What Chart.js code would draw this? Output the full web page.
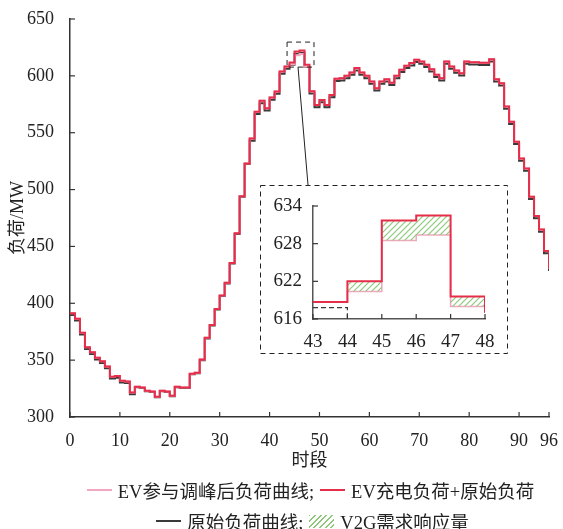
<!DOCTYPE html>
<html>
<head>
<meta charset="utf-8">
<script src="https://cdn.jsdelivr.net/npm/chart.js@4"></script>
<style>
body { margin: 0; background: #fff; }
#wrap { position: relative; width: 563px; height: 529px; font-family: 'Liberation Serif', 'Noto Sans CJK SC', serif; color: #222; }
#main { position: absolute; left: 0; top: 0; }
#inset { position: absolute; left: 261px; top: 186px; background: #fff; }
.legend-row { position: absolute; left: 0; width: 563px; height: 24px; display: flex; justify-content: center; align-items: center; font-size: 18.5px; white-space: nowrap; }
.item { display: flex; align-items: center; margin: 0 3px; }
.swatch { width: 25px; height: 0; border-top: 2.5px solid; margin-right: 6px; }
.hatch { width: 25px; height: 13px; margin-right: 6px; background: repeating-linear-gradient(135deg, #8cc97b 0 1.4px, transparent 1.4px 4px); }
</style>
</head>
<body>
<div id="wrap">
  <canvas id="main" width="563" height="529"></canvas>
  <canvas id="inset" width="245" height="166"></canvas>
  <div class="legend-row" id="row1" style="top:478px; left:29px"></div>
  <div class="legend-row" id="row2" style="top:509px; left:31px"></div>
</div>
<script>
// 时段 0..96 的负荷 (MW), 最后一个值是第96时段末端
const xTicks = [0, 10, 20, 30, 40, 50, 60, 70, 80, 90, 96];

const loadWithEV = [
    391.3, 386.3, 374, 361.3, 356.9, 352, 349, 344.3, 335.4, 336,
    331.9, 331.3, 321.6, 326.6, 326, 323.1, 322.5, 317.8, 323.1, 322.5,
    318.7, 326.6, 326, 326, 338, 339, 350.5, 369.6, 381, 395,
    406.9, 418, 435.4, 461.5, 494.2, 523, 545, 568.5, 578, 571.5,
    580.9, 586.2, 603.8, 608.2, 611.7, 621.4, 622.3, 609.7, 586.5, 574.4,
    578.8, 574.4, 583.2, 597.4, 598, 600, 603, 606.8, 603, 600,
    595, 589.2, 595, 597, 594, 600, 605.3, 608.8, 611.2, 614.1,
    612.6, 609.7, 605.9, 600.9, 598, 612.6, 608.2, 604.7, 602.4, 612.6,
    612, 612, 611.5, 611.5, 614.7, 597, 593.6, 573, 559.7, 542,
    527.4, 518.6, 493.6, 476.8, 464.8, 445.9, 430.5
];

const loadAfterV2G = [
    391.3, 386.3, 374, 361.3, 356.9, 352, 349, 344.3, 335.4, 336,
    331.9, 331.3, 321.6, 326.6, 326, 323.1, 322.5, 317.8, 323.1, 322.5,
    318.7, 326.6, 326, 326, 338, 339, 350.5, 369.6, 381, 395,
    406.9, 418, 435.4, 461.5, 494.2, 523, 545, 568.5, 578, 571.5,
    580.9, 586.2, 603.8, 608.2, 610.2, 618.2, 619.2, 608.1, 586.5, 574.4,
    578.8, 574.4, 583.2, 597.4, 598, 600, 603, 606.8, 603, 600,
    595, 589.2, 595, 597, 594, 600, 605.3, 608.8, 611.2, 614.1,
    612.6, 609.7, 605.9, 600.9, 598, 612.6, 608.2, 604.7, 602.4, 612.6,
    612, 612, 611.5, 611.5, 614.7, 597, 593.6, 573, 559.7, 542,
    527.4, 518.6, 493.6, 476.8, 464.8, 445.9, 430.5
];

const loadOriginal = [
    389.8, 384.8, 372.5, 359.8, 355.4, 350.5, 347.5, 342.8, 333.9, 334.5,
    330.4, 329.8, 320.1, 326.1, 325.5, 322.6, 322, 317.3, 322.6, 322,
    318.2, 326.1, 325.5, 325.5, 337.5, 338.5, 350, 369.1, 380.5, 394.5,
    406.4, 417.5, 434.9, 461, 493.7, 522.5, 543, 566.5, 576, 569.5,
    578.9, 584.2, 601.8, 606.2, 609.7, 619.4, 620.3, 607.7, 584.5, 572.4,
    576.8, 572.4, 581.2, 595.4, 596, 598, 601, 604.8, 601, 598,
    593, 587.2, 593, 595, 592, 598, 603.3, 606.8, 609.2, 612.1,
    610.6, 607.7, 603.9, 598.9, 596, 610.6, 606.2, 602.7, 600.4, 610.6,
    610, 610, 609.5, 609.5, 612.7, 595, 591.6, 571, 557.7, 540,
    525.4, 516.6, 491.6, 474.8, 462.8, 443.9, 428.5
];

// 局部放大 (43-48 时段)
const zoomPeriods = [43, 44, 45, 46, 47, 48];
const zoomWithEV = [618.7, 622, 631.7, 632.5, 619.6, 617];
const zoomAfterV2G = [618.7, 620.4, 628.5, 629.4, 618, 617];
const zoomOrigPeriods = [43, 44];
const zoomOriginal = [617.8, 616];

const legendLabels = ['EV参与调峰后负荷曲线;', 'EV充电负荷+原始负荷', '原始负荷曲线;', 'V2G需求响应量'];

const RED = '#e62e4b';
const PINK = '#f4a6c0';
const DARK = '#3a3a3a';
const GREEN = '#8cc97b';

// 放大框位置
const zoomBox = { x0: 43.5, x1: 48.9, y0: 607.7, y1: 629.7, linkX: 45.7 };
const insetBox = { left: 260, top: 185, right: 507, bottom: 353, linkX: 308 };

Chart.defaults.font.family = "'Liberation Serif', 'Noto Sans CJK SC', serif";
Chart.defaults.font.size = 18;
Chart.defaults.color = '#222';

function toPoints(xs, ys) {
    return ys.map((v, i) => ({ x: xs[i], y: v }));
}
const periods = loadWithEV.map((v, i) => i);

// 刻度朝内
const innerTicks = {
    id: 'innerTicks',
    afterDraw(chart) {
        const ctx = chart.ctx;
        const a = chart.chartArea;
        ctx.save();
        ctx.strokeStyle = '#333';
        ctx.lineWidth = 1.2;
        chart.scales.x.ticks.forEach(t => {
            const px = chart.scales.x.getPixelForValue(t.value);
            ctx.beginPath();
            ctx.moveTo(px, a.bottom);
            ctx.lineTo(px, a.bottom - 5);
            ctx.stroke();
        });
        chart.scales.y.ticks.forEach(t => {
            const py = chart.scales.y.getPixelForValue(t.value);
            ctx.beginPath();
            ctx.moveTo(a.left, py);
            ctx.lineTo(a.left + 5, py);
            ctx.stroke();
        });
        ctx.restore();
    }
};

const zoomMarks = {
    id: 'zoomMarks',
    afterDraw(chart) {
        const { x, y } = chart.scales;
        const ctx = chart.ctx;
        ctx.save();
        ctx.strokeStyle = '#222';
        ctx.lineWidth = 1;
        ctx.setLineDash([5, 4]);
        const l = x.getPixelForValue(zoomBox.x0), r = x.getPixelForValue(zoomBox.x1);
        const t = y.getPixelForValue(zoomBox.y1), b = y.getPixelForValue(zoomBox.y0);
        ctx.strokeRect(l, t, r - l, b - t);
        ctx.strokeRect(insetBox.left + 0.5, insetBox.top + 0.5, insetBox.right - insetBox.left, insetBox.bottom - insetBox.top);
        ctx.setLineDash([]);
        ctx.beginPath();
        ctx.moveTo(x.getPixelForValue(zoomBox.linkX), b);
        ctx.lineTo(insetBox.linkX, insetBox.top);
        ctx.stroke();
        ctx.restore();
    }
};

function lineSet(label, data, color, width) {
    return {
        label: label,
        data: data,
        borderColor: color,
        backgroundColor: color,
        borderWidth: width,
        stepped: true,
        pointRadius: 0,
        fill: false,
        borderJoinStyle: 'miter'
    };
}

new Chart(document.getElementById('main'), {
    type: 'line',
    data: {
        datasets: [
            lineSet(legendLabels[1], toPoints(periods, loadWithEV), RED, 2),
            lineSet(legendLabels[0], toPoints(periods, loadAfterV2G), PINK, 2),
            lineSet(legendLabels[2], toPoints(periods, loadOriginal), DARK, 2)
        ]
    },
    options: {
        responsive: false,
        animation: false,
        layout: { padding: { top: 19, right: 8, bottom: 57, left: 0 } },
        plugins: { legend: { display: false }, tooltip: { enabled: false } },
        scales: {
            x: {
                type: 'linear',
                min: 0,
                max: 96,
                afterBuildTicks: s => { s.ticks = xTicks.map(v => ({ value: v })); },
                afterFit: s => { s.height = 55; },
                grid: { display: false },
                border: { color: '#333', width: 1.5 },
                ticks: { padding: 5, maxRotation: 0, autoSkip: false },
                title: { display: true, text: '时段', padding: 0 }
            },
            y: {
                min: 300,
                max: 650,
                afterFit: s => { s.width = 70; },
                grid: { display: false },
                border: { color: '#333', width: 1.5 },
                ticks: { stepSize: 50, padding: 8 },
                title: { display: true, text: '负荷/MW', padding: { top: 7, bottom: 0 } }
            }
        }
    },
    plugins: [innerTicks, zoomMarks]
});

// 斜线填充
const insetCanvas = document.getElementById('inset');
function makeHatch() {
    const c = document.createElement('canvas');
    c.width = 6; c.height = 6;
    const g = c.getContext('2d');
    g.strokeStyle = GREEN;
    g.lineWidth = 1.2;
    g.beginPath();
    g.moveTo(0, 6); g.lineTo(6, 0);
    g.moveTo(-1, 1); g.lineTo(1, -1);
    g.moveTo(5, 7); g.lineTo(7, 5);
    g.stroke();
    return insetCanvas.getContext('2d').createPattern(c, 'repeat');
}
const hatch = makeHatch();

const redZoom = lineSet(legendLabels[1], toPoints(zoomPeriods, zoomWithEV), RED, 2);
redZoom.fill = '+1';
redZoom.backgroundColor = hatch;
const pinkZoom = lineSet(legendLabels[0], toPoints(zoomPeriods, zoomAfterV2G), PINK, 1.5);
const darkZoom = lineSet(legendLabels[2], toPoints(zoomOrigPeriods, zoomOriginal), DARK, 1.2);
darkZoom.borderDash = [5, 3];

new Chart(insetCanvas, {
    type: 'line',
    data: { datasets: [redZoom, pinkZoom, darkZoom] },
    options: {
        responsive: false,
        animation: false,
        layout: { padding: { top: 20, right: 21, bottom: 0, left: 0 } },
        plugins: { legend: { display: false }, tooltip: { enabled: false } },
        scales: {
            x: {
                type: 'linear',
                min: 43,
                max: 48,
                afterFit: s => { s.height = 33; },
                grid: { display: false },
                border: { color: '#555', width: 1.5 },
                ticks: { stepSize: 1, padding: 4, font: { size: 19 } }
            },
            y: {
                min: 616,
                max: 634,
                afterFit: s => { s.width = 52; },
                grid: { display: false },
                border: { color: '#555', width: 1.5 },
                ticks: { stepSize: 6, padding: 3, font: { size: 19 } }
            }
        }
    },
    plugins: [innerTicks]
});

// 图例
const legendItems = [
    { row: 'row1', label: legendLabels[0], color: PINK },
    { row: 'row1', label: legendLabels[1], color: RED },
    { row: 'row2', label: legendLabels[2], color: DARK },
    { row: 'row2', label: legendLabels[3], hatch: true }
];
legendItems.forEach(it => {
    const item = document.createElement('div');
    item.className = 'item';
    const sw = document.createElement('span');
    if (it.hatch) {
        sw.className = 'hatch';
    } else {
        sw.className = 'swatch';
        sw.style.borderColor = it.color;
    }
    const txt = document.createElement('span');
    txt.textContent = it.label;
    item.appendChild(sw);
    item.appendChild(txt);
    document.getElementById(it.row).appendChild(item);
});
</script>
</body>
</html>
